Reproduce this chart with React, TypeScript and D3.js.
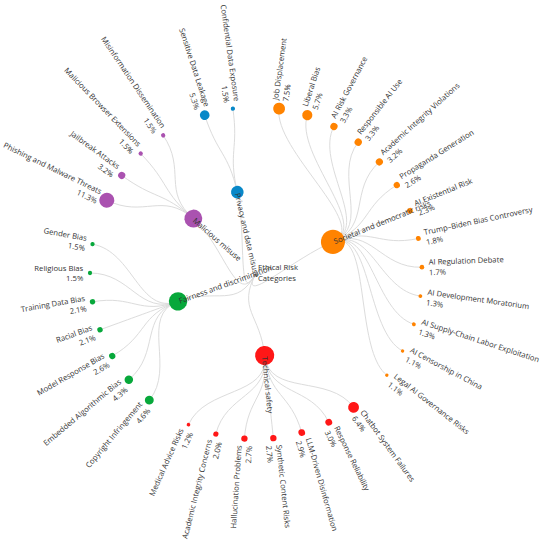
import React, { useRef, useEffect } from 'react';
import * as d3 from 'd3';

const rootLines = ['Ethical Risk', 'Categories'];
const categories = [
  'Societal and democratic risks',
  'Technical safety',
  'Fairness and discrimination',
  'Malicious misuse',
  'Privacy and data misuse',
];
const societalRisks = [
  'Job Displacement', 'Liberal Bias', 'AI Risk Governance', 'Responsible AI Use',
  'Academic Integrity Violations', 'Propaganda Generation', 'AI Existential Risk',
  'Trump–Biden Bias Controversy', 'AI Regulation Debate', 'AI Development Moratorium',
  'AI Supply-Chain Labor Exploitation', 'AI Censorship in China', 'Legal AI Governance Risks',
];
const societalShares = [7.5, 5.7, 3.3, 3.3, 3.2, 2.6, 2.3, 1.8, 1.7, 1.3, 1.3, 1.1, 1.1];
const technicalRisks = [
  'Chatbot System Failures', 'Response Reliability', 'LLM-Driven Disinformation',
  'Synthetic Content Risks', 'Hallucination Problems', 'Academic Integrity Concerns',
  'Medical Advice Risks',
];
const technicalShares = [6.4, 3.0, 2.9, 2.7, 2.7, 2.0, 1.2];
const fairnessRisks = [
  'Copyright Infringement', 'Embedded Algorithmic Bias', 'Model Response Bias',
  'Racial Bias', 'Training Data Bias', 'Religious Bias', 'Gender Bias',
];
const fairnessShares = [4.6, 4.3, 2.6, 2.1, 2.1, 1.5, 1.5];
const maliciousRisks = [
  'Phishing and Malware Threats', 'Jailbreak Attacks', 'Malicious Browser Extensions',
  'Misinformation Dissemination',
];
const maliciousShares = [11.3, 3.2, 1.5, 1.5];
const privacyRisks = ['Sensitive Data Leakage', 'Confidential Data Exposure'];
const privacyShares = [5.3, 1.5];

const riskGroups = [societalRisks, technicalRisks, fairnessRisks, maliciousRisks, privacyRisks];
const shareGroups = [societalShares, technicalShares, fairnessShares, maliciousShares, privacyShares];
const palette = ['#ff8300', '#ff1717', '#07a83b', '#aa52b0', '#0888c8'];

export default function App() {
  const svgRef = useRef(null);

  useEffect(() => {
    const w = 550;
    const h = 547;
    const cx = 256;
    const cy = 273;
    const outer = 166;
    const svg = d3.select(svgRef.current).attr('width', w).attr('height', h);
    svg.selectAll('*').remove();

    const data = {
      name: rootLines.join(' '),
      children: categories.map((c, i) => ({
        name: c,
        group: i,
        children: riskGroups[i].map((n, j) => ({ name: n, value: shareGroups[i][j], group: i })),
      })),
    };
    const root: any = d3.hierarchy(data as any).sum((d: any) => d.value || 0);
    d3.tree().size([2 * Math.PI, outer]).separation((a, b) => (a.parent === b.parent ? 1 : 1.6))(root);

    const leafR = d3.scalePow().exponent(0.5).domain([1.1, 11.3]).range([1.7, 7.5]);
    const catR = d3.scalePow().exponent(0.5).domain([6.8, 36.2]).range([6.3, 12]);
    const radius = (d: any) => (d.depth === 2 ? leafR(d.data.value) : d.depth === 1 ? catR(d.value) : 0);
    const deg = (d: any) => (d.x * 180) / Math.PI;

    const g = svg.append('g').attr('transform', `translate(${cx},${cy})`);

    //links
    g.append('g')
      .selectAll('path')
      .data(root.links())
      .join('path')
      .attr('d', d3.linkRadial<any, any>().angle((d: any) => d.x).radius((d: any) => d.y))
      .attr('fill', 'none')
      .attr('stroke', '#dcdcdc')
      .attr('stroke-width', 1);

    //nodes
    const nodes = root.descendants().filter((d: any) => d.depth > 0);
    g.append('g')
      .selectAll('circle')
      .data(nodes)
      .join('circle')
      .attr('transform', (d: any) => `rotate(${deg(d) - 90}) translate(${d.y},0)`)
      .attr('r', radius)
      .attr('fill', (d: any) => palette[d.data.group]);

    const font = "'Open Sans', sans-serif";
    const fs = 7.7;
    const ink = '#333';

    //leaf labels
    const leaf = g.append('g')
      .selectAll('g')
      .data(root.leaves())
      .join('g')
      .attr('transform', (d: any) => `rotate(${deg(d) - 90}) translate(${d.y},0)${d.x >= Math.PI ? ' rotate(180)' : ''}`)
      .attr('font-family', font)
      .attr('font-size', fs)
      .attr('fill', ink);
    [0, 1].forEach((line) => {
      leaf.append('text')
        .attr('x', (d: any) => (d.x >= Math.PI ? -1 : 1) * (6 + radius(d) * 0.35))
        .attr('y', line === 0 ? -5.2 : 5.2)
        .attr('dominant-baseline', 'central')
        .attr('text-anchor', (d: any) => (d.x >= Math.PI ? 'end' : 'start'))
        .text((d: any) => (line === 0 ? d.data.name : d3.format('.1f')(d.data.value) + '%'));
    });

    //category labels
    g.append('g')
      .selectAll('text')
      .data(root.children)
      .join('text')
      .attr('transform', (d: any) => `rotate(${deg(d) - 90}) translate(${d.y},0)${d.x >= Math.PI ? ' rotate(180)' : ''}`)
      .attr('x', 1)
      .attr('dominant-baseline', 'central')
      .attr('font-family', font)
      .attr('font-size', fs)
      .attr('fill', ink)
      .text((d: any) => d.data.name);

    //root label
    g.append('g')
      .selectAll('text')
      .data(rootLines)
      .join('text')
      .attr('x', 2)
      .attr('y', (d, i) => (i === 0 ? -6 : 5))
      .attr('dominant-baseline', 'central')
      .attr('font-family', font)
      .attr('font-size', fs)
      .attr('fill', ink)
      .text((d) => d);
  }, []);

  return (
    <div className="App">
      <svg ref={svgRef} style={{ position: 'absolute', left: 0, top: 0 }}></svg>
    </div>
  );
}
